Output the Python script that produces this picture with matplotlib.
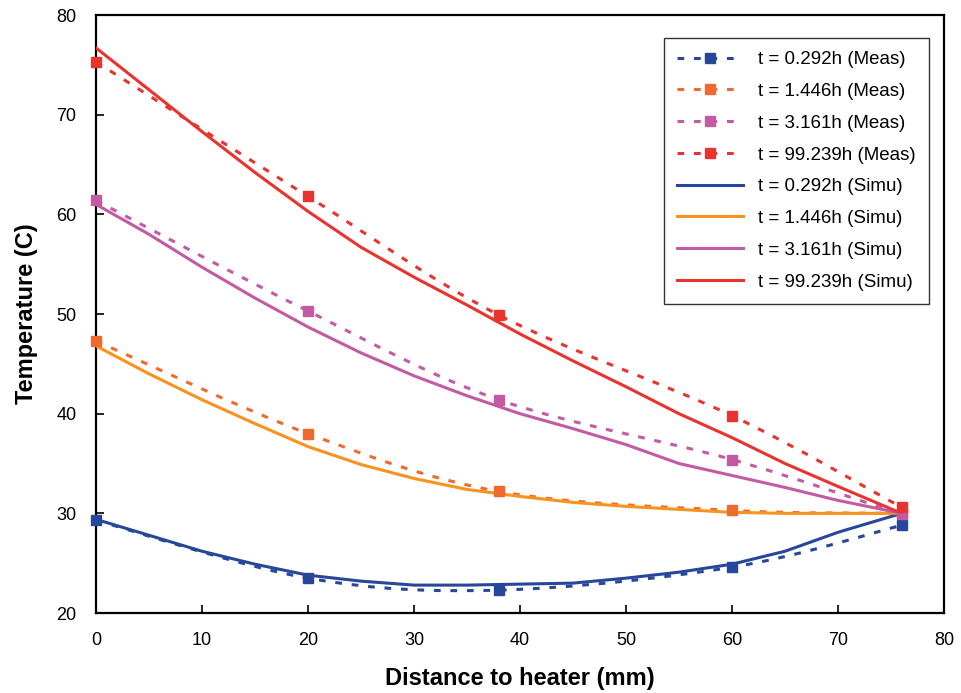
import matplotlib
matplotlib.use("Agg")
import matplotlib.pyplot as plt
from matplotlib.path import Path
from matplotlib.patches import PathPatch
from matplotlib.lines import Line2D
from matplotlib import font_manager
import numpy as np

# ---- data -------------------------------------------------------------
meas_x = [0, 20, 38, 60, 76]
meas_0292 = [29.3, 23.5, 22.3, 24.6, 28.8]
meas_1446 = [47.3, 38.0, 32.2, 30.3, 30.0]
meas_3161 = [61.4, 50.3, 41.4, 35.4, 29.9]
meas_99239 = [75.3, 61.8, 49.9, 39.8, 30.6]

simu_x = [0, 5, 10, 15, 20, 25, 30, 35, 40, 45, 50, 55, 60, 65, 70, 76]
simu_0292 = [29.4, 27.8, 26.2, 24.9, 23.8, 23.2, 22.8, 22.8, 22.9, 23.0, 23.5, 24.1, 24.9, 26.2, 28.1, 30.0]
simu_1446 = [46.8, 44.0, 41.4, 39.0, 36.7, 34.9, 33.5, 32.4, 31.7, 31.1, 30.7, 30.4, 30.1, 30.0, 30.0, 30.0]
simu_3161 = [61.0, 58.0, 54.7, 51.6, 48.7, 46.1, 43.8, 41.8, 40.0, 38.5, 36.9, 35.0, 33.8, 32.6, 31.3, 30.0]
simu_99239 = [76.7, 72.5, 68.3, 64.2, 60.3, 56.7, 53.7, 50.9, 48.0, 45.3, 42.7, 40.0, 37.6, 35.0, 32.7, 30.0]

times = ["0.292", "1.446", "3.161", "99.239"]
x_ticks = [0, 10, 20, 30, 40, 50, 60, 70, 80]
y_ticks = [20, 30, 40, 50, 60, 70, 80]

meas_colors = ["#27479B", "#EE6A2D", "#C25BA4", "#E8332E"]
simu_colors = ["#27479B", "#F7931E", "#C25BA4", "#E8332E"]

# ---- fonts ------------------------------------------------------------
available = {f.name for f in font_manager.fontManager.ttflist}
base_font = "Liberation Sans" if "Liberation Sans" in available else "DejaVu Sans"
plt.rcParams["font.family"] = [base_font, "DejaVu Sans"]


def smooth_path(xs, ys):
    """Catmull-Rom style smoothed curve through the points, as cubic Beziers."""
    pts = np.column_stack([xs, ys]).astype(float)
    verts = [pts[0]]
    codes = [Path.MOVETO]
    n = len(pts)
    for i in range(n - 1):
        p0 = pts[max(i - 1, 0)]
        p1 = pts[i]
        p2 = pts[i + 1]
        p3 = pts[min(i + 2, n - 1)]
        c1 = p1 + (p2 - p0) / 6.0
        c2 = p2 - (p3 - p1) / 6.0
        verts += [c1, c2, p2]
        codes += [Path.CURVE4] * 3
    return Path(verts, codes)


fig = plt.figure(figsize=(9.62, 6.93), dpi=100)
ax = fig.add_axes([0.0998, 0.1154, 0.8815, 0.8629])

dash = (0, (2.2, 3.2))
lw = 2.2
msize = 7.5
handles = []

meas_sets = [meas_0292, meas_1446, meas_3161, meas_99239]
simu_sets = [simu_0292, simu_1446, simu_3161, simu_99239]

for t, ys, c in zip(times, meas_sets, meas_colors):
    patch = PathPatch(smooth_path(meas_x, ys), fill=False, edgecolor=c,
                      linewidth=lw, linestyle=dash, capstyle="butt", zorder=3)
    ax.add_patch(patch)
    ax.plot(meas_x, ys, linestyle="none", marker="s", markersize=msize,
            color=c, zorder=4, clip_on=False)
    handles.append(Line2D([], [], color=c, linewidth=lw, linestyle=dash,
                          marker="s", markersize=msize,
                          label=f"t = {t}h (Meas)"))

for t, ys, c in zip(times, simu_sets, simu_colors):
    ax.plot(simu_x, ys, color=c, linewidth=lw, solid_joinstyle="round", zorder=3)
    handles.append(Line2D([], [], color=c, linewidth=lw,
                          label=f"t = {t}h (Simu)"))

ax.set_xlim(0, 80)
ax.set_ylim(20, 80)
ax.set_xticks(x_ticks)
ax.set_yticks(y_ticks)
ax.tick_params(direction="in", length=6, width=1.2, labelsize=13, pad=14,
               colors="black")
for s in ax.spines.values():
    s.set_linewidth(1.6)
    s.set_color("black")

ax.set_xlabel("Distance to heater (mm)", fontsize=17, fontweight="bold")
ax.set_ylabel("Temperature (C)", fontsize=17, fontweight="bold")
ax.xaxis.set_label_coords(0.5, -0.09)
ax.yaxis.set_label_coords(-0.068, 0.5)

leg = ax.legend(handles=handles, loc="upper right",
                bbox_to_anchor=(0.982, 0.9615), fontsize=13.5, numpoints=1,
                handlelength=3.5, handletextpad=0.8, labelspacing=0.78,
                borderpad=0.7, fancybox=False, framealpha=1,
                edgecolor="#333333", borderaxespad=0)
leg.get_frame().set_linewidth(1.0)

fig.savefig("out.png", dpi=100)
